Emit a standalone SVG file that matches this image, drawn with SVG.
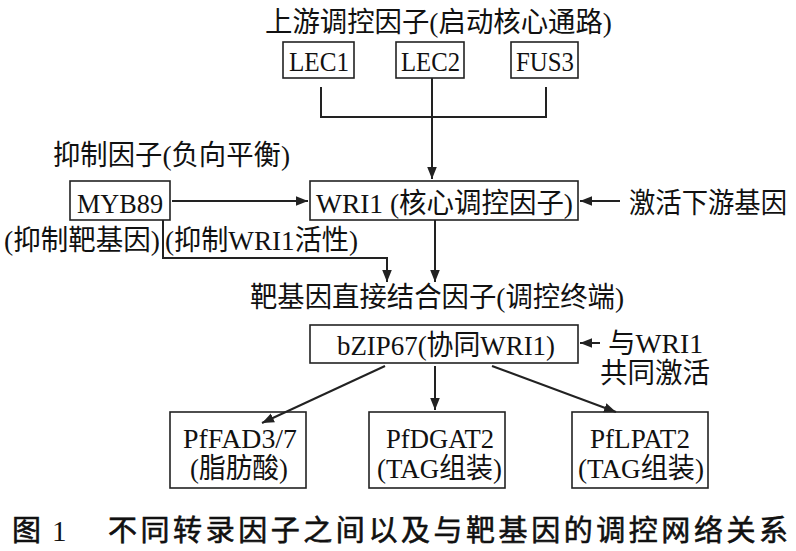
<svg xmlns="http://www.w3.org/2000/svg" width="796" height="551" viewBox="0 0 796 551">
<style>
.t{font-family:"Liberation Serif","Noto Sans CJK SC",serif;font-size:28px;fill:#111}
.b{fill:#fff;stroke:#222;stroke-width:1.6}
.l{fill:none;stroke:#222;stroke-width:2}
.cap{font-family:"Noto Sans CJK SC","Liberation Sans",sans-serif;font-size:29px;fill:#111;stroke:#111;stroke-width:0.6}
.capn{font-family:"Liberation Serif",serif;font-size:29px;fill:#111}
</style>
<defs>
<marker id="ah" viewBox="0 0 10 10" refX="10" refY="5" markerWidth="12" markerHeight="12" markerUnits="userSpaceOnUse" orient="auto">
<path d="M0,1 L10,5 L0,9 z" fill="#222"/>
</marker>
</defs>
<rect width="796" height="551" fill="#fff"/>
<text class="t" x="265" y="32" textLength="347" lengthAdjust="spacingAndGlyphs">上游调控因子(启动核心通路)</text>
<g id="lec1"><rect class="b" x="283" y="42" width="71" height="36"/><text class="t" x="289" y="71" textLength="60" lengthAdjust="spacingAndGlyphs">LEC1</text></g>
<g id="lec2"><rect class="b" x="396" y="42" width="68" height="36"/><text class="t" x="401" y="71" textLength="59" lengthAdjust="spacingAndGlyphs">LEC2</text></g>
<g id="fus3"><rect class="b" x="511" y="42" width="67" height="36"/><text class="t" x="516" y="71" textLength="58" lengthAdjust="spacingAndGlyphs">FUS3</text></g>
<text class="t" x="53" y="165" textLength="237" lengthAdjust="spacingAndGlyphs">抑制因子(负向平衡)</text>
<g id="myb89"><rect class="b" x="70" y="181" width="100" height="39"/><text class="t" x="77" y="213" textLength="86" lengthAdjust="spacingAndGlyphs">MYB89</text></g>
<g id="wri1"><rect class="b" x="310" y="181" width="268" height="39"/><text class="t" x="316" y="213" textLength="257" lengthAdjust="spacingAndGlyphs">WRI1 (核心调控因子)</text></g>
<text class="t" x="629" y="213" textLength="158" lengthAdjust="spacingAndGlyphs">激活下游基因</text>
<text class="t" x="4" y="250" textLength="156" lengthAdjust="spacingAndGlyphs">(抑制靶基因)</text>
<text class="t" x="165" y="250" textLength="193" lengthAdjust="spacingAndGlyphs">(抑制WRI1活性)</text>
<text class="t" x="250" y="307" textLength="374" lengthAdjust="spacingAndGlyphs">靶基因直接结合因子(调控终端)</text>
<g id="bzip67"><rect class="b" x="310" y="325" width="268" height="38"/><text class="t" x="337" y="355" textLength="218" lengthAdjust="spacingAndGlyphs">bZIP67(协同WRI1)</text></g>
<text class="t" x="608" y="353" textLength="95" lengthAdjust="spacingAndGlyphs">与WRI1</text>
<text class="t" x="600" y="383" textLength="110" lengthAdjust="spacingAndGlyphs">共同激活</text>
<g id="pffad"><rect class="b" x="170" y="412" width="136" height="76"/><text class="t" x="183" y="448" textLength="114" lengthAdjust="spacingAndGlyphs">PfFAD3/7</text><text class="t" x="190" y="478" textLength="98" lengthAdjust="spacingAndGlyphs">(脂肪酸)</text></g>
<g id="pfdgat"><rect class="b" x="369" y="412" width="136" height="76"/><text class="t" x="386" y="448" textLength="108" lengthAdjust="spacingAndGlyphs">PfDGAT2</text><text class="t" x="377" y="478" textLength="125" lengthAdjust="spacingAndGlyphs">(TAG组装)</text></g>
<g id="pflpat"><rect class="b" x="572" y="412" width="136" height="76"/><text class="t" x="590" y="448" textLength="100" lengthAdjust="spacingAndGlyphs">PfLPAT2</text><text class="t" x="578" y="478" textLength="126" lengthAdjust="spacingAndGlyphs">(TAG组装)</text></g>
<g id="connectors">
<path class="l" d="M321,87 V117 H546 V87"/>
<path class="l" d="M432,78 V179" marker-end="url(#ah)"/>
<path class="l" d="M172,201 H308" marker-end="url(#ah)"/>
<path class="l" d="M620,201 H580" marker-end="url(#ah)"/>
<path class="l" d="M163,220 V258 H387 V282" marker-end="url(#ah)"/>
<path class="l" d="M435,220 V282" marker-end="url(#ah)"/>
<path class="l" d="M600,343 H580" marker-end="url(#ah)"/>
<path class="l" d="M385,366 L262,423" marker-end="url(#ah)"/>
<path class="l" d="M435,366 V410" marker-end="url(#ah)"/>
<path class="l" d="M492,366 L616,412" marker-end="url(#ah)"/>
</g>
<text class="cap" x="12" y="541">图</text>
<text class="capn" x="52" y="541">1</text>
<text class="cap" x="108" y="541" textLength="680" lengthAdjust="spacing">不同转录因子之间以及与靶基因的调控网络关系</text>
</svg>
